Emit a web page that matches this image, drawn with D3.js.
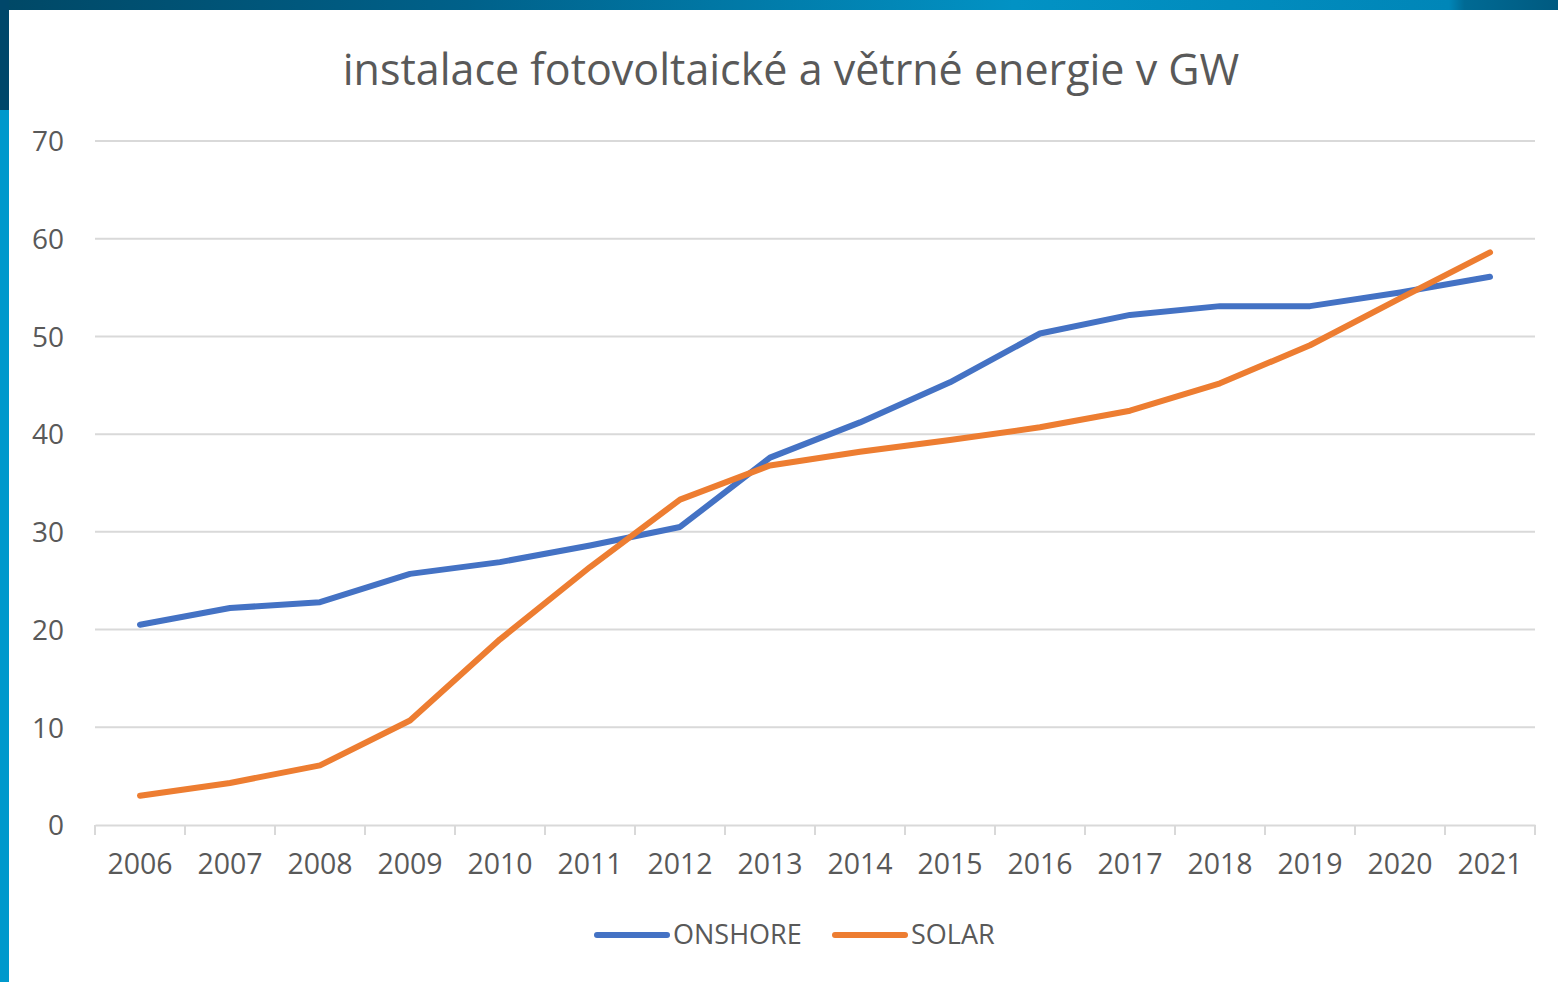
<!DOCTYPE html>
<html>
<head>
<meta charset="utf-8">
<script src="https://cdn.jsdelivr.net/npm/d3@7"></script>
<style>
  html, body { margin: 0; padding: 0; background: #fff; }
  svg { display: block; }
  .grid line { stroke: #d9d9d9; stroke-width: 2; }
  .tick text { fill: #595959; font-family: "Open Sans", sans-serif; }
</style>
</head>
<body>
<svg id="chart" width="1558" height="982"></svg>
<script>
  const years = ["2006", "2007", "2008", "2009", "2010", "2011", "2012", "2013",
    "2014", "2015", "2016", "2017", "2018", "2019", "2020", "2021"];
  const onshore = [20.5, 22.2, 22.8, 25.7, 26.9, 28.6, 30.5, 37.6,
    41.2, 45.3, 50.3, 52.2, 53.1, 53.1, 54.5, 56.1];
  const solar = [3.0, 4.3, 6.1, 10.7, 19.0, 26.4, 33.3, 36.8,
    38.2, 39.4, 40.7, 42.4, 45.2, 49.1, 53.9, 58.6];
  const yTicks = [0, 10, 20, 30, 40, 50, 60, 70];
  const seriesNames = ["ONSHORE", "SOLAR"];
  const seriesColors = ["#4472c4", "#ed7d31"];

  const svg = d3.select("#chart");
  const W = 1558, H = 982;

  // slide frame: gradient bar on top, two-tone strip on the left
  const defs = svg.append("defs");
  const grad = defs.append("linearGradient").attr("id", "topbar").attr("x1", 0).attr("x2", 1);
  [[0, "#004866"], [0.3, "#00618a"], [0.65, "#0292c4"], [0.93, "#0086b8"], [0.94, "#006a94"], [1, "#005a80"]]
    .forEach(([o, c]) => grad.append("stop").attr("offset", o).attr("stop-color", c));
  svg.append("rect").attr("width", W).attr("height", 10).attr("fill", "url(#topbar)");
  svg.append("rect").attr("width", 9).attr("height", 110).attr("fill", "#00476a");
  svg.append("rect").attr("y", 110).attr("width", 9).attr("height", H - 110).attr("fill", "#0099cc");

  const x = d3.scaleBand().domain(years).range([95, 1535]);
  const y = d3.scaleLinear().domain([0, 70]).range([825, 141]);

  svg.append("text")
    .attr("x", 791).attr("y", 85)
    .attr("text-anchor", "middle")
    .attr("font-family", "'Open Sans', sans-serif")
    .attr("font-size", 43)
    .attr("fill", "#595959")
    .text("instalace fotovoltaické a větrné energie v GW");

  // horizontal gridlines
  svg.append("g").attr("class", "grid")
    .selectAll("line")
    .data(yTicks.filter((d) => d > 0))
    .join("line")
    .attr("x1", 95).attr("x2", 1535)
    .attr("y1", (d) => y(d)).attr("y2", (d) => y(d));

  const yAxis = svg.append("g")
    .attr("transform", "translate(68,0)")
    .call(d3.axisLeft(y).tickValues(yTicks).tickSize(0).tickPadding(4));
  yAxis.select(".domain").remove();
  yAxis.selectAll("text").attr("font-size", 28).attr("dy", "0.35em");

  const xAxis = svg.append("g")
    .attr("transform", "translate(0,825)")
    .call(d3.axisBottom(x).tickSize(0).tickPadding(29));
  xAxis.select(".domain").attr("stroke", "#d9d9d9").attr("stroke-width", 2);
  xAxis.selectAll("text").attr("font-size", 28.5);
  // category separators
  xAxis.append("g").selectAll("line")
    .data(years.concat(["end"]))
    .join("line")
    .attr("x1", (d, i) => 95 + i * x.bandwidth())
    .attr("x2", (d, i) => 95 + i * x.bandwidth())
    .attr("y1", 0).attr("y2", 10)
    .attr("stroke", "#d9d9d9").attr("stroke-width", 2);

  const line = d3.line()
    .x((d, i) => x(years[i]) + x.bandwidth() / 2)
    .y((d) => y(d));

  [onshore, solar].forEach((vals, k) => {
    svg.append("path")
      .datum(vals)
      .attr("d", line)
      .attr("fill", "none")
      .attr("stroke", seriesColors[k])
      .attr("stroke-width", 6)
      .attr("stroke-linecap", "round")
      .attr("stroke-linejoin", "round");
  });

  // legend
  const legendX = [597, 835];
  const legend = svg.append("g");
  seriesNames.forEach((name, k) => {
    const g = legend.append("g").attr("transform", `translate(${legendX[k]},935)`);
    g.append("line").attr("x1", 0).attr("x2", 70)
      .attr("stroke", seriesColors[k]).attr("stroke-width", 6).attr("stroke-linecap", "round");
    g.append("text").attr("x", 76).attr("dy", "0.35em")
      .attr("font-family", "'Open Sans', sans-serif").attr("font-size", 27)
      .attr("fill", "#595959").text(name);
  });
</script>
</body>
</html>
